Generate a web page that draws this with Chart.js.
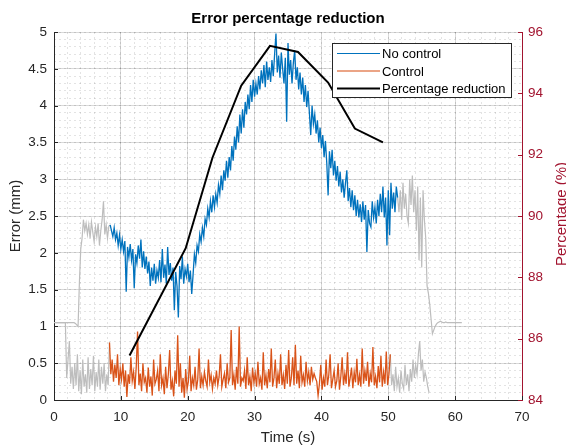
<!DOCTYPE html>
<html>
<head>
<meta charset="utf-8">
<script src="https://cdn.jsdelivr.net/npm/chart.js@4.4.1/dist/chart.umd.min.js"></script>
<style>
  html, body { margin: 0; padding: 0; background: #fff; }
  canvas { display: block; }
</style>
</head>
<body>
<canvas id="chart" width="566" height="448"></canvas>
<script>
// error signals are sampled every DT seconds from their start time
const DT = 0.2;

const timeTicks = [0, 10, 20, 30, 40, 50, 60, 70];
const errorTicks = [0, 0.5, 1, 1.5, 2, 2.5, 3, 3.5, 4, 4.5, 5];
const pctTicks = [84, 86, 88, 90, 92, 94, 96];

// No control (blue), 8.4 s .. 51.4 s
const noCtrlStart = 8.4;
const noCtrl = [
  2.38, 2.30, 2.22, 2.34, 2.18, 2.27, 2.10, 2.24, 2.05, 2.18,
  2.02, 2.16, 1.47, 2.08, 1.94, 2.12, 1.90, 2.05, 1.52, 1.98,
  1.86, 2.10, 1.92, 2.18, 1.80, 2.02, 1.78, 1.95, 1.72, 1.88,
  1.55, 1.80, 1.62, 1.85, 1.58, 1.76, 1.66, 1.90, 1.60, 2.05,
  1.66, 1.84, 1.58, 2.08, 1.70, 1.86, 1.62, 1.80, 1.22, 1.74,
  1.55, 1.12, 1.82, 1.64, 1.95, 1.58, 1.78, 1.68, 1.85, 1.60,
  1.76, 1.44, 1.70, 1.98, 1.86, 2.10, 2.02, 2.25, 2.15, 2.34,
  2.22, 2.46, 2.38, 2.60, 2.48, 2.70, 2.55, 2.78, 2.62, 2.80,
  2.68, 2.92, 2.80, 3.05, 2.85, 3.12, 2.98, 3.25, 3.02, 3.30,
  3.12, 3.45, 3.25, 3.58, 3.40, 3.72, 3.50, 3.88, 3.62, 3.95,
  3.70, 4.05, 3.88, 4.15, 3.95, 4.28, 4.05, 4.35, 4.12, 4.30,
  4.15, 4.40, 4.22, 4.48, 4.30, 4.55, 4.25, 4.60, 4.35, 4.52,
  4.32, 4.62, 4.40, 4.70, 4.98, 4.45, 4.68, 4.38, 4.72, 4.50,
  4.30, 4.65, 3.78, 4.85, 4.42, 4.62, 4.30, 4.58, 4.75, 4.35,
  4.52, 4.22, 4.45, 4.15, 4.38, 4.05, 4.28, 3.98, 4.20, 3.90,
  3.60, 4.00, 3.75, 3.88, 3.62, 3.80, 3.50, 3.70, 3.42, 3.60,
  3.30, 3.52, 3.22, 2.78, 3.38, 3.15, 3.40, 3.05, 3.25, 2.98,
  3.18, 2.90, 3.10, 2.82, 3.00, 2.75, 2.95, 3.12, 2.70, 2.88,
  2.62, 2.85, 2.58, 2.78, 2.50, 2.72, 2.48, 2.66, 2.42, 2.70,
  2.45, 2.65, 2.01, 2.58, 2.40, 2.35, 2.70, 2.48, 2.62, 2.40,
  2.72, 2.50, 2.80, 2.55, 2.90, 2.48, 2.75, 2.10, 2.85, 2.24,
  2.95, 2.60, 2.82, 2.55, 2.90, 2.75
];

// Control (orange), 8.3 s .. 50.3 s
const ctrlStart = 8.3;
const ctrl = [
  0.78, 0.35, 0.55, 0.25, 0.48, 0.30, 0.62, 0.20, 0.42, 0.28,
  0.50, 0.18, 0.40, 0.04, 0.35, 0.22, 0.58, 0.26, 0.38, 0.15,
  0.45, 0.93, 0.20, 0.36, 0.12, 0.50, 0.24, 0.30, 0.10, 0.44,
  0.18, 0.32, 0.06, 0.55, 0.22, 0.28, 0.40, 0.12, 0.62, 0.20,
  0.30, 0.08, 0.45, 0.16, 0.35, 0.68, 0.14, 0.26, 0.05, 0.40,
  0.22, 0.88, 0.18, 0.50, 0.10, 0.30, 0.03, 0.42, 0.15, 0.25,
  0.60, 0.12, 0.30, 0.20, 0.45, 0.14, 0.28, 0.70, 0.16, 0.32,
  0.20, 0.38, 0.26, 0.18, 0.55, 0.24, 0.34, 0.15, 0.30, 0.22,
  0.40, 0.20, 0.32, 0.62, 0.18, 0.28, 0.36, 0.16, 0.50, 0.24,
  0.30, 0.95, 0.20, 0.34, 0.14, 0.45, 0.22, 1.00, 0.18, 0.30,
  0.26, 0.40, 0.15, 0.58, 0.20, 0.32, 0.12, 0.44, 0.24, 0.36,
  0.18, 0.52, 0.22, 0.30, 0.14, 0.65, 0.20, 0.34, 0.16, 0.42,
  0.24, 0.70, 0.18, 0.30, 0.55, 0.16, 0.36, 0.22, 0.62, 0.20,
  0.34, 0.15, 0.48, 0.22, 0.68, 0.18, 0.30, 0.58, 0.20, 0.75,
  0.22, 0.40, 0.16, 0.60, 0.24, 0.34, 0.18, 0.52, 0.26, 0.38,
  0.20, 0.45, 0.28, 0.36, 0.30, 0.25, 0.06, 0.22, 0.48, 0.14,
  0.30, 0.18, 0.55, 0.20, 0.34, 0.62, 0.16, 0.28, 0.40, 0.18,
  0.26, 0.50, 0.14, 0.32, 0.58, 0.20, 0.36, 0.22, 0.65, 0.18,
  0.30, 0.44, 0.16, 0.38, 0.24, 0.56, 0.20, 0.34, 0.18, 0.70,
  0.22, 0.40, 0.26, 0.52, 0.18, 0.36, 0.24, 0.72, 0.20, 0.32,
  0.16, 0.46, 0.24, 0.60, 0.18, 0.38, 0.22, 0.66, 0.20, 0.35,
  0.62
];

// raw signals outside the analysed window (grey)
const rawNoCtrlHeadStart = 0;
const rawNoCtrlHead = [
  1.05, 1.05, 1.05, 1.05, 1.05, 1.05, 1.05, 1.05, 1.05, 1.05,
  1.05, 1.05, 1.05, 1.05, 1.05, 1.05, 1.04, 1.02,
  1.00, 1.60, 2.05, 2.20, 2.45, 2.30, 2.40, 2.25, 2.38, 2.20,
  2.42, 2.28, 2.15, 2.35, 2.22, 2.40, 2.10, 2.30, 2.45, 2.70,
  2.25, 2.38, 2.20, 2.36, 2.38
];
const rawNoCtrlTailStart = 51.4;
const rawNoCtrlTail = [
  2.75, 2.55, 2.85, 2.45, 2.95, 2.60, 2.80, 2.50, 2.40, 3.00,
  2.65, 3.05, 2.55, 2.85, 2.30, 2.90, 1.90, 2.75, 1.80, 2.85,
  2.45, 2.20, 1.55, 1.45, 1.30, 1.10, 0.90, 0.95, 1.00, 1.03,
  1.05, 1.06, 1.07, 1.06, 1.05, 1.05, 1.06, 1.05, 1.05, 1.05,
  1.05, 1.05, 1.05, 1.05, 1.05, 1.05, 1.05, 1.05, 1.05
];
const rawCtrlHeadStart = 0.3;
const rawCtrlHead = [
  1.05, 1.05, 1.05, 1.05, 1.05, 1.05, 1.05, 1.05,
  0.30, 0.55, 0.80, 0.22, 0.45, 0.15, 0.50, 0.20, 0.62, 0.12,
  0.40, 0.08, 0.55, 0.18, 0.35, 0.10, 0.58, 0.15, 0.42, 0.20,
  0.60, 0.12, 0.38, 0.18, 0.55, 0.14, 0.45, 0.22, 0.50, 0.12,
  0.35, 0.20, 0.78
];
const rawCtrlTailStart = 50.3;
const rawCtrlTail = [
  0.62, 0.20, 0.35, 0.12, 0.45, 0.18, 0.30, 0.10, 0.40, 0.22,
  0.15, 0.48, 0.20, 0.35, 0.12, 0.42, 0.25, 0.55, 0.30, 0.48,
  0.35, 0.62, 0.80, 0.40, 0.55, 0.25, 0.38, 0.30, 0.18, 0.10
];

// percentage reduction (right axis)
const pctTime = [11.3, 19.7, 23.7, 28.0, 32.3, 36.5, 41.0, 45.0, 49.2];
const pctValue = [85.45, 88.95, 91.9, 94.25, 95.55, 95.35, 94.35, 92.85, 92.4];

const FONT = "'Liberation Sans', Arial, Helvetica, sans-serif";
const INK = '#262626';
const RED = '#A2142F';
const GREY = '#bdbdbd';
const MAJOR = 'rgba(0,0,0,0.15)';
const MINOR = 'rgba(0,0,0,0.11)';

function sampled(t0, values) {
  return values.map((v, i) => ({ x: +(t0 + i * DT).toFixed(2), y: v }));
}

function rawSet(t0, values) {
  return {
    data: sampled(t0, values), borderColor: GREY, borderWidth: 1.2,
    pointRadius: 0, yAxisID: 'y'
  };
}

const datasets = [
  {
    label: 'Percentage reduction',
    data: pctTime.map((t, i) => ({ x: t, y: pctValue[i] })),
    borderColor: '#000', borderWidth: 2, pointRadius: 0, yAxisID: 'y2'
  },
  {
    label: 'Control', data: sampled(ctrlStart, ctrl),
    borderColor: '#D95319', borderWidth: 1.3, pointRadius: 0, yAxisID: 'y'
  },
  {
    label: 'No control', data: sampled(noCtrlStart, noCtrl),
    borderColor: '#0072BD', borderWidth: 1.3, pointRadius: 0, yAxisID: 'y'
  },
  rawSet(rawNoCtrlHeadStart, rawNoCtrlHead),
  rawSet(rawNoCtrlTailStart, rawNoCtrlTail),
  rawSet(rawCtrlHeadStart, rawCtrlHead),
  rawSet(rawCtrlTailStart, rawCtrlTail)
];

function fixTicks(list) {
  return scale => { scale.ticks = list.map(v => ({ value: v })); };
}
function fixSize(key, size) {
  return scale => { scale[key] = size; };
}

// axis titles, inward tick marks and the boxed legend
const decor = {
  id: 'decor',
  afterDraw(chart) {
    const { ctx, chartArea: a, scales } = chart;
    ctx.save();
    ctx.lineWidth = 1;

    const seg = (x1, y1, x2, y2) => {
      ctx.beginPath(); ctx.moveTo(x1, y1); ctx.lineTo(x2, y2); ctx.stroke();
    };
    ctx.strokeStyle = INK;
    errorTicks.forEach(v => {
      const y = Math.round(scales.y.getPixelForValue(v)) + 0.5;
      seg(a.left, y, a.left + 4, y);
    });
    timeTicks.forEach(v => {
      const x = Math.round(scales.x.getPixelForValue(v)) + 0.5;
      seg(x, a.bottom, x, a.bottom - 4);
    });
    ctx.strokeStyle = RED;
    pctTicks.forEach(v => {
      const y = Math.round(scales.y2.getPixelForValue(v)) + 0.5;
      seg(a.right, y, a.right - 4, y);
    });

    // titles
    ctx.textAlign = 'center';
    ctx.textBaseline = 'alphabetic';
    ctx.fillStyle = '#000';
    ctx.font = 'bold 15px ' + FONT;
    ctx.fillText('Error percentage reduction', (a.left + a.right) / 2, 23);

    ctx.font = '15px ' + FONT;
    ctx.fillStyle = INK;
    ctx.fillText('Time (s)', (a.left + a.right) / 2, 442);

    const midY = (a.top + a.bottom) / 2;
    ctx.save();
    ctx.translate(20, midY);
    ctx.rotate(-Math.PI / 2);
    ctx.fillText('Error (mm)', 0, 0);
    ctx.restore();

    ctx.save();
    ctx.fillStyle = RED;
    ctx.translate(566, midY - 2);
    ctx.rotate(-Math.PI / 2);
    ctx.fillText('Percentage (%)', 0, 0);
    ctx.restore();

    // legend
    const box = { x: 332.5, y: 43.5, w: 179, h: 54 };
    ctx.fillStyle = '#fff';
    ctx.fillRect(box.x, box.y, box.w, box.h);
    ctx.strokeStyle = INK;
    ctx.strokeRect(box.x, box.y, box.w, box.h);
    const rows = [
      { ds: chart.data.datasets[2], y: 53.5, w: 1.2 },
      { ds: chart.data.datasets[1], y: 71, w: 1.6 },
      { ds: chart.data.datasets[0], y: 88.5, w: 2.2 }
    ];
    ctx.font = '13px ' + FONT;
    ctx.textAlign = 'left';
    ctx.textBaseline = 'middle';
    rows.forEach(r => {
      ctx.strokeStyle = r.ds.borderColor;
      ctx.globalAlpha = r.ds.label === 'Control' ? 0.7 : 1;
      ctx.lineWidth = r.w;
      seg(337, r.y, 380, r.y);
      ctx.globalAlpha = 1;
      ctx.fillStyle = '#000';
      ctx.fillText(r.ds.label, 382, r.y + 1);
    });
    ctx.restore();
  }
};

new Chart(document.getElementById('chart'), {
  type: 'line',
  data: { datasets },
  plugins: [decor],
  options: {
    responsive: false,
    animation: false,
    layout: { padding: { top: 32, left: 0, right: 0, bottom: 0 } },
    plugins: { legend: { display: false }, title: { display: false }, tooltip: { enabled: false } },
    elements: { line: { tension: 0 } },
    scales: {
      xMinor: {
        type: 'linear', position: 'bottom', min: 0, max: 70,
        ticks: { display: false, stepSize: 2 },
        grid: { color: MINOR, drawTicks: false },
        border: { display: false, dash: [2, 3] },
        afterFit: fixSize('height', 0)
      },
      yMinor: {
        type: 'linear', position: 'left', min: 0, max: 5,
        ticks: { display: false, stepSize: 0.1 },
        grid: { color: MINOR, drawTicks: false },
        border: { display: false, dash: [2, 3] },
        afterFit: fixSize('width', 0)
      },
      x: {
        type: 'linear', position: 'bottom', min: 0, max: 70,
        afterBuildTicks: fixTicks(timeTicks),
        ticks: { color: INK, font: { family: FONT, size: 13.5 }, padding: 9, maxRotation: 0 },
        grid: { color: MAJOR, drawTicks: false },
        border: { color: INK, width: 1 },
        afterFit: fixSize('height', 48)
      },
      y: {
        type: 'linear', position: 'left', min: 0, max: 5,
        afterBuildTicks: fixTicks(errorTicks),
        ticks: {
          color: INK, font: { family: FONT, size: 13.5 }, padding: 7,
          callback: v => String(Math.round(v * 10) / 10)
        },
        grid: { color: MAJOR, drawTicks: false },
        border: { color: INK, width: 1 },
        afterFit: fixSize('width', 54)
      },
      y2: {
        type: 'linear', position: 'right', min: 84, max: 96,
        afterBuildTicks: fixTicks(pctTicks),
        ticks: { color: RED, font: { family: FONT, size: 13.5 }, padding: 6 },
        grid: { drawOnChartArea: false, drawTicks: false },
        border: { color: RED, width: 1 },
        afterFit: fixSize('width', 44)
      }
    }
  }
});
</script>
</body>
</html>
